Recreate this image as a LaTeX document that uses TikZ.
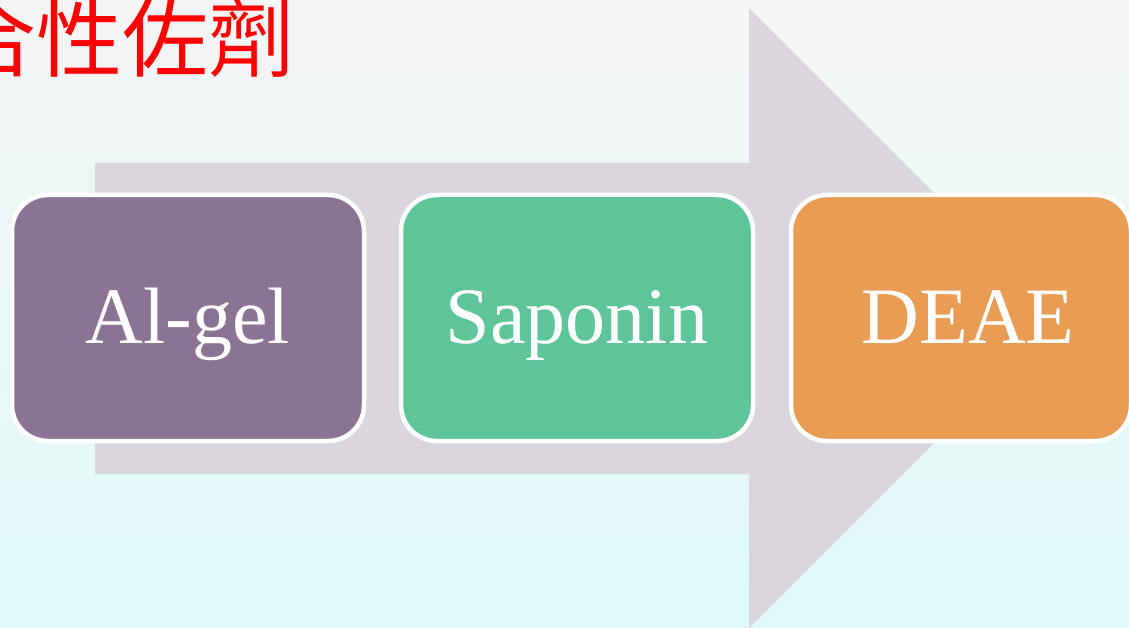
\documentclass[tikz,border=0pt]{standalone}
\usepackage{fontspec}
\setmainfont{Liberation Serif}
\newfontfamily\cjk{Noto Sans CJK TC}
\definecolor{bgtop}{HTML}{F5F5F5}
\definecolor{bgmid}{HTML}{F0F4F4}
\definecolor{bgbot}{HTML}{DEF9F9}
\definecolor{arrowgray}{HTML}{DBD6DE}
\definecolor{boxpurple}{HTML}{8B7394}
\definecolor{boxgreen}{HTML}{5EC49A}
\definecolor{boxorange}{HTML}{E89C54}
\definecolor{titlered}{HTML}{FF0000}
\tikzset{
  stagebox/.style={draw=white, line width=4.5pt, rounded corners=36pt, minimum height=246pt, inner sep=0pt},
  stagetext/.style={text=white, font=\fontsize{80}{96}\selectfont, inner sep=0pt, anchor=base},
  titletext/.style={text=titlered, font=\cjk\fontsize{86}{100}\selectfont, inner sep=0pt, anchor=west}
}
\begin{document}
\begin{tikzpicture}[x=1pt,y=-1pt]
\useasboundingbox (0,0) rectangle (1129,628);
\shade[top color=bgtop, middle color=bgmid, bottom color=bgbot] (0,0) rectangle (1129,628);
\fill[arrowgray] (95,163) -- (749,163) -- (749,8) -- (1059,318) -- (749,628) -- (749,474) -- (95,474) -- cycle;
\node[titletext] (title) at (-50,38) {合性佐劑};
\node[stagebox, fill=boxpurple, minimum width=352pt] (b1) at (188,318) {};
\node[stagebox, fill=boxgreen, minimum width=352pt] (b2) at (577,318) {};
\node[stagebox, fill=boxorange, minimum width=340pt] (b3) at (961,318) {};
\node[stagetext] (t1) at (188,343) {Al-gel};
\node[stagetext] (t2) at (577,343) {Saponin};
\node[stagetext] (t3) at (968,343) {DEAE};
\end{tikzpicture}
\end{document}
